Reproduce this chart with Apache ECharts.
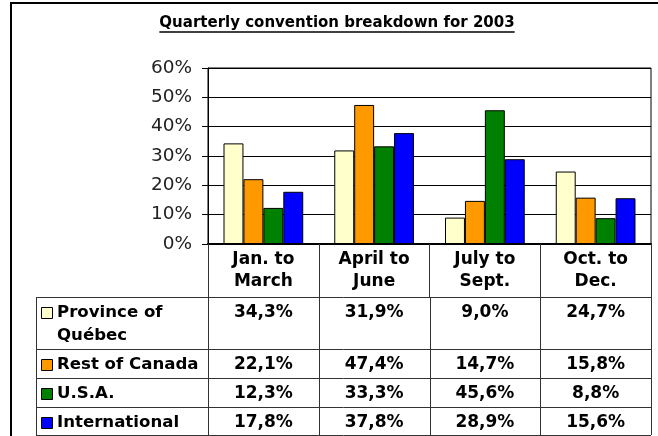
<!DOCTYPE html>
<html>
<head>
<meta charset="utf-8">
<script src="https://cdn.jsdelivr.net/npm/echarts@6/dist/echarts.min.js"></script>
<style>
html,body{margin:0;padding:0;background:#fff;}
#chart{width:658px;height:436px;}
</style>
</head>
<body>
<div id="chart"></div>
<script>
const titleText = 'Quarterly convention breakdown for 2003';
const categories = ['Jan. to\nMarch', 'April to\nJune', 'July to\nSept.', 'Oct. to\nDec.'];
const seriesNames = ['Province of Québec', 'Rest of Canada', 'U.S.A.', 'International'];
const legendLabels = ['Province of\nQuébec', 'Rest of Canada', 'U.S.A.', 'International'];
const quebec = [34.3, 31.9, 9.0, 24.7];
const restOfCanada = [22.1, 47.4, 14.7, 15.8];
const usa = [12.3, 33.3, 45.6, 8.8];
const international = [17.8, 37.8, 28.9, 15.6];
const colors = ['#FFFFCC', '#FF9900', '#008000', '#0000FF'];

const allSeries = [quebec, restOfCanada, usa, international];
const FONT = 'DejaVu Sans, Verdana, sans-serif';

const chart = echarts.init(document.getElementById('chart'), null, {renderer: 'canvas'});

chart.setOption({
  animation: false,
  backgroundColor: '#fff',
  grid: {left: 208, right: 7, top: 68, bottom: 192, show: true, borderColor: '#000', borderWidth: 1},
  xAxis: {
    type: 'category',
    data: categories,
    axisLine: {show: true, lineStyle: {color: '#000', width: 2}},
    axisTick: {show: true, length: 53, lineStyle: {color: '#333', width: 1}},
    axisLabel: {
      margin: 4, fontFamily: FONT, fontWeight: 'bold', fontSize: 17,
      color: '#000', lineHeight: 22.5, interval: 0, align: 'center'
    },
    splitLine: {show: false}
  },
  yAxis: {
    type: 'value', min: 0, max: 60, interval: 10,
    axisLine: {show: true, lineStyle: {color: '#000', width: 1}},
    axisTick: {show: true, length: 6, lineStyle: {color: '#000'}},
    axisLabel: {formatter: '{value}%', margin: 16, fontFamily: FONT, fontSize: 18.5, color: '#222'},
    splitLine: {show: true, lineStyle: {color: '#000', width: 1}}
  },
  series: allSeries.map((d, i) => ({
    name: seriesNames[i],
    type: 'bar',
    data: d,
    barGap: '0%',
    barCategoryGap: '28%',
    itemStyle: {color: colors[i], borderColor: '#000', borderWidth: 1}
  }))
});

function fmt(v) { return v.toFixed(1).replace('.', ',') + '%'; }

const TITLE_FONT = 'bold 15px ' + FONT;
const BOLD = 'bold 17px ' + FONT;
const LEG = 'bold 16.6px ' + FONT;
const canvas = document.createElement('canvas');
const ctx = canvas.getContext('2d');
ctx.font = TITLE_FONT;
const titleW = ctx.measureText(titleText).width;
const titleCx = 337, titleCy = 23;

const colCenters = categories.map((c, i) => chart.convertToPixel({xAxisIndex: 0}, i));
const colEdges = [208, 318.7, 429.5, 540.3, 651];
const rowLines = [297, 349, 378, 407, 435];
const tableLeft = 36;
const lineColor = '#333';

const g = [];
g.push({type: 'rect', shape: {x: 11, y: 3, width: 700, height: 500}, style: {fill: null, stroke: '#000', lineWidth: 2}, silent: true});
g.push({type: 'text', x: titleCx, y: titleCy, style: {text: titleText, font: TITLE_FONT, fill: '#000', align: 'center', verticalAlign: 'middle'}});
g.push({type: 'line', shape: {x1: titleCx - titleW / 2, y1: 32, x2: titleCx + titleW / 2, y2: 32}, style: {stroke: '#000', lineWidth: 1.4}});
rowLines.forEach(y => {
  g.push({type: 'line', shape: {x1: tableLeft, y1: y + 0.5, x2: 651, y2: y + 0.5}, style: {stroke: lineColor, lineWidth: 1}});
});
[tableLeft].concat(colEdges).forEach(x => {
  g.push({type: 'line', shape: {x1: Math.round(x) + 0.5, y1: rowLines[0], x2: Math.round(x) + 0.5, y2: rowLines[rowLines.length - 1]}, style: {stroke: lineColor, lineWidth: 1}});
});
allSeries.forEach((d, r) => {
  const top = rowLines[r];
  const firstLineCy = top + 16;
  g.push({type: 'rect', shape: {x: 41.5, y: firstLineCy - 5.5, width: 11, height: 11}, style: {fill: colors[r], stroke: '#000', lineWidth: 1}});
  g.push({type: 'text', x: 57, y: firstLineCy - 11.25, style: {text: legendLabels[r], font: LEG, fill: '#000', align: 'left', verticalAlign: 'top', lineHeight: 22.5}});
  d.forEach((v, c) => {
    g.push({type: 'text', x: colCenters[c], y: firstLineCy, style: {text: fmt(v), font: BOLD, fill: '#000', align: 'center', verticalAlign: 'middle'}});
  });
});

chart.setOption({graphic: g});
</script>
</body>
</html>
